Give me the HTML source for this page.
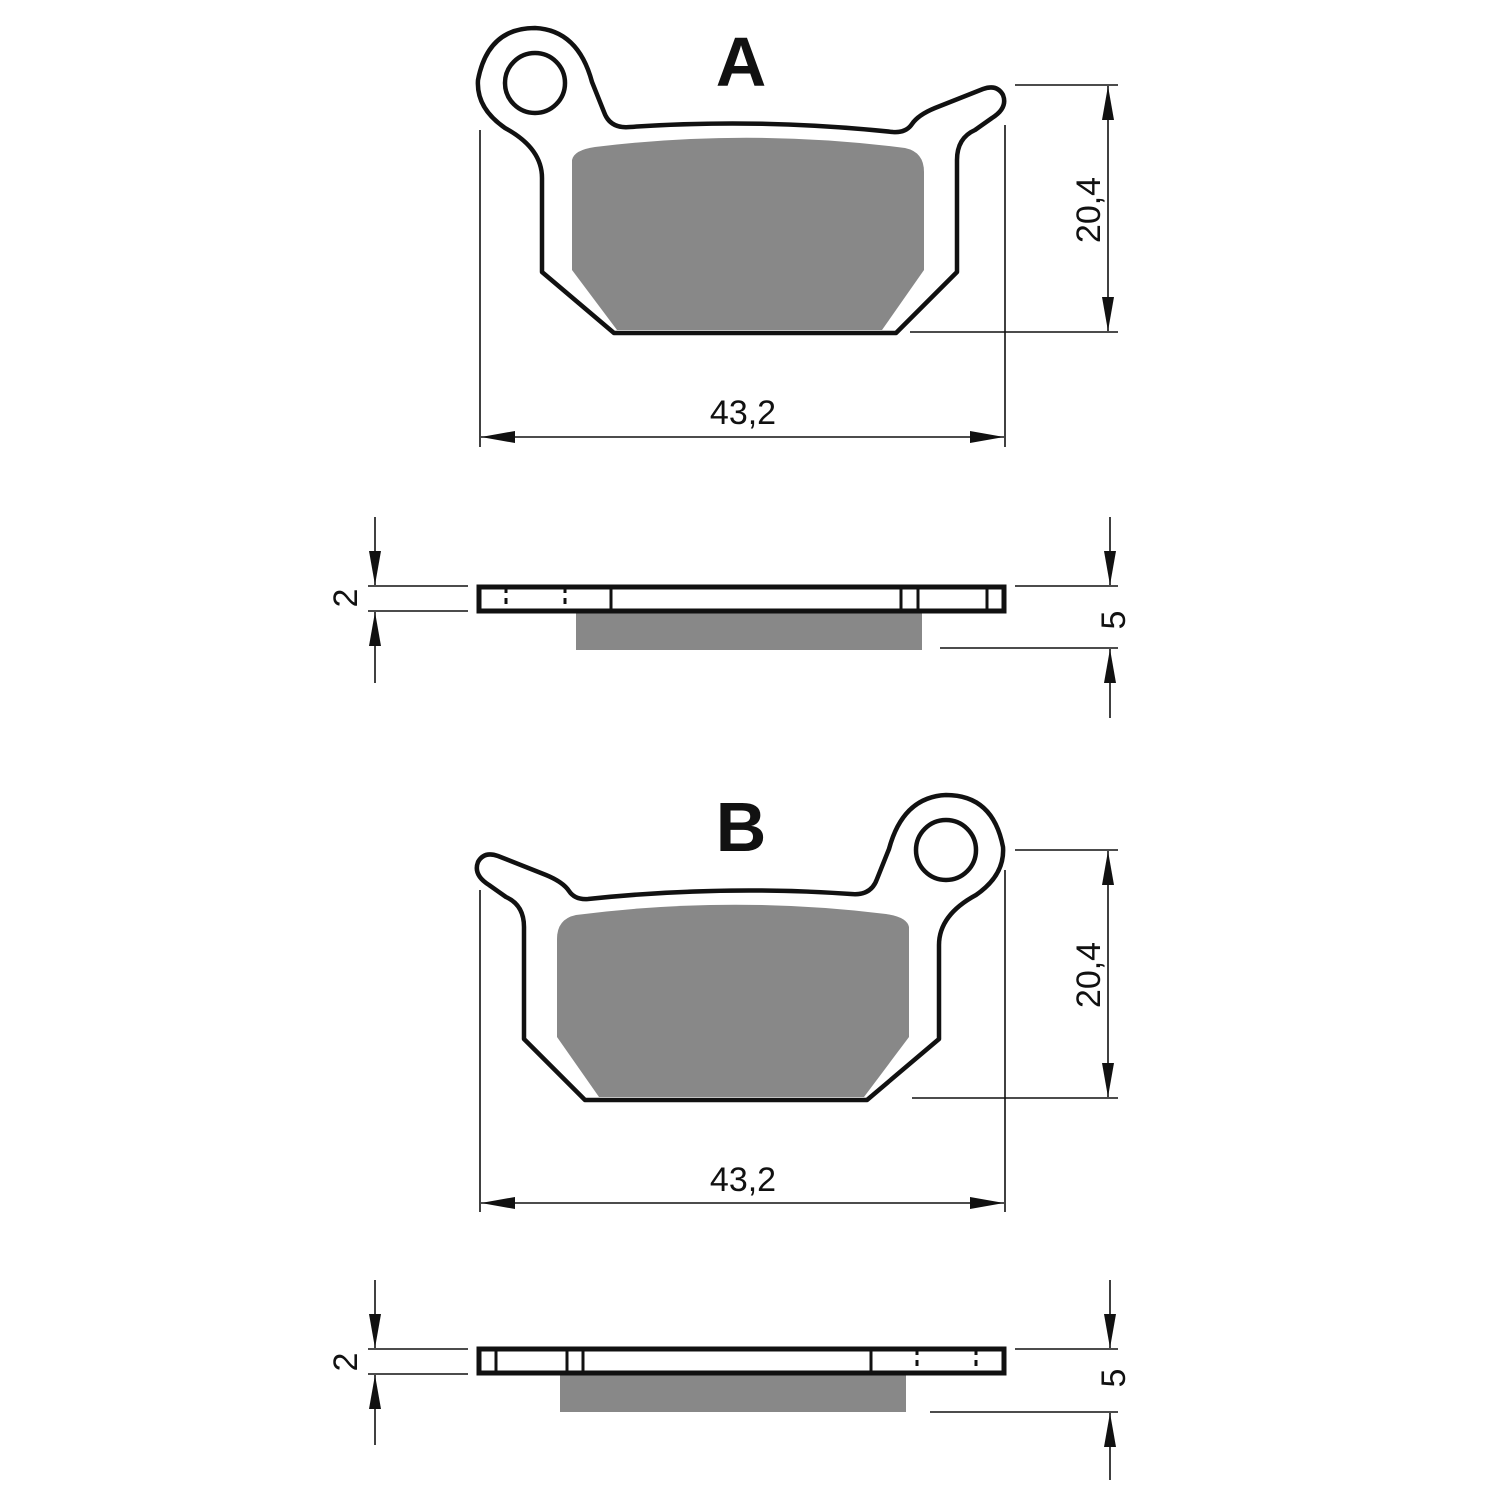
<!DOCTYPE html>
<html><head><meta charset="utf-8"><style>
html,body{margin:0;padding:0;background:#fff;}
svg{display:block;}
text{font-family:"Liberation Sans",sans-serif;fill:#111;}
</style></head><body>
<svg width="1500" height="1500" viewBox="0 0 1500 1500">
<defs>
<marker id="arw" viewBox="0 0 10 10" refX="10" refY="5" markerWidth="34" markerHeight="12" markerUnits="userSpaceOnUse" orient="auto" preserveAspectRatio="none"><path d="M0,0 L10,5 L0,10 Z" fill="#111"/></marker>
</defs>
<g>
<path d="M614,333 L896,333 L957,272 L957,160 Q957,138 975,130 L992,118 Q1008,108 1003,95 Q997,84 983,89 L935,108 Q918,115 912,124 Q906,133 893,132 Q760,118 630,127 Q610,129 604,112 L592,82 Q578,30 535,28 Q488,28 478,80 Q476,108 505,128 Q542,148 542,178 L542,272 Z" fill="none" stroke="#111" stroke-width="4.5" stroke-linejoin="round"/>
<circle cx="535" cy="83" r="30" fill="none" stroke="#111" stroke-width="4.5"/>
<path d="M572,160 Q574,150 595,147 Q750,128 905,148 Q924,152 924,172 L924,270 L882,330 L617,330 L572,270 Z" fill="#888"/>
</g>
<g transform="translate(1481,767) scale(-1,1)">
<path d="M614,333 L896,333 L957,272 L957,160 Q957,138 975,130 L992,118 Q1008,108 1003,95 Q997,84 983,89 L935,108 Q918,115 912,124 Q906,133 893,132 Q760,118 630,127 Q610,129 604,112 L592,82 Q578,30 535,28 Q488,28 478,80 Q476,108 505,128 Q542,148 542,178 L542,272 Z" fill="none" stroke="#111" stroke-width="4.5" stroke-linejoin="round"/>
<circle cx="535" cy="83" r="30" fill="none" stroke="#111" stroke-width="4.5"/>
<path d="M572,160 Q574,150 595,147 Q750,128 905,148 Q924,152 924,172 L924,270 L882,330 L617,330 L572,270 Z" fill="#888"/>
</g>
<text x="741" y="86" font-size="70" font-weight="bold" text-anchor="middle">A</text>
<text x="741" y="851" font-size="70" font-weight="bold" text-anchor="middle">B</text>
<g stroke="#111" stroke-width="1.6" fill="none">
<line x1="480" y1="130" x2="480" y2="447"/>
<line x1="1005" y1="125" x2="1005" y2="447"/>
<line x1="1015" y1="85" x2="1118" y2="85"/>
<line x1="910" y1="332" x2="1118" y2="332"/>
<line x1="743" y1="437" x2="481" y2="437" marker-end="url(#arw)"/>
<line x1="743" y1="437" x2="1004" y2="437" marker-end="url(#arw)"/>
<line x1="1108" y1="210" x2="1108" y2="86" marker-end="url(#arw)"/>
<line x1="1108" y1="210" x2="1108" y2="331" marker-end="url(#arw)"/>
<line x1="480" y1="890" x2="480" y2="1212"/>
<line x1="1005" y1="870" x2="1005" y2="1212"/>
<line x1="1015" y1="850" x2="1118" y2="850"/>
<line x1="912" y1="1098" x2="1118" y2="1098"/>
<line x1="743" y1="1203" x2="481" y2="1203" marker-end="url(#arw)"/>
<line x1="743" y1="1203" x2="1004" y2="1203" marker-end="url(#arw)"/>
<line x1="1108" y1="975" x2="1108" y2="851" marker-end="url(#arw)"/>
<line x1="1108" y1="975" x2="1108" y2="1097" marker-end="url(#arw)"/>
<line x1="368" y1="586" x2="468" y2="586"/>
<line x1="368" y1="611" x2="468" y2="611"/>
<line x1="375" y1="517" x2="375" y2="585" marker-end="url(#arw)"/>
<line x1="375" y1="683" x2="375" y2="612" marker-end="url(#arw)"/>
<line x1="1015" y1="586" x2="1118" y2="586"/>
<line x1="940" y1="648" x2="1118" y2="648"/>
<line x1="1110" y1="517" x2="1110" y2="585" marker-end="url(#arw)"/>
<line x1="1110" y1="718" x2="1110" y2="649" marker-end="url(#arw)"/>
<line x1="368" y1="1349" x2="468" y2="1349"/>
<line x1="368" y1="1374" x2="468" y2="1374"/>
<line x1="375" y1="1280" x2="375" y2="1348" marker-end="url(#arw)"/>
<line x1="375" y1="1445" x2="375" y2="1375" marker-end="url(#arw)"/>
<line x1="1015" y1="1349" x2="1118" y2="1349"/>
<line x1="930" y1="1412" x2="1118" y2="1412"/>
<line x1="1110" y1="1280" x2="1110" y2="1348" marker-end="url(#arw)"/>
<line x1="1110" y1="1480" x2="1110" y2="1413" marker-end="url(#arw)"/>
</g>
<rect x="576" y="612" width="346" height="38" fill="#888"/>
<rect x="479" y="587" width="525" height="24" fill="none" stroke="#111" stroke-width="5"/>
<g stroke="#111" stroke-width="3">
<line x1="611" y1="587" x2="611" y2="611"/>
<line x1="901" y1="587" x2="901" y2="611"/>
<line x1="918" y1="587" x2="918" y2="611"/>
<line x1="987" y1="587" x2="987" y2="611"/>
<line x1="506" y1="587" x2="506" y2="611" stroke-dasharray="6,5"/>
<line x1="565" y1="587" x2="565" y2="611" stroke-dasharray="6,5"/>
</g>
<rect x="560" y="1375" width="346" height="37" fill="#888"/>
<rect x="479" y="1349" width="525" height="24" fill="none" stroke="#111" stroke-width="5"/>
<g stroke="#111" stroke-width="3">
<line x1="496" y1="1349" x2="496" y2="1373"/>
<line x1="567" y1="1349" x2="567" y2="1373"/>
<line x1="583" y1="1349" x2="583" y2="1373"/>
<line x1="871" y1="1349" x2="871" y2="1373"/>
<line x1="917" y1="1349" x2="917" y2="1373" stroke-dasharray="6,5"/>
<line x1="976" y1="1349" x2="976" y2="1373" stroke-dasharray="6,5"/>
</g>
<text x="743" y="424" font-size="34" text-anchor="middle">43,2</text>
<text x="743" y="1191" font-size="34" text-anchor="middle">43,2</text>
<text transform="translate(1100,210) rotate(-90)" font-size="34" text-anchor="middle">20,4</text>
<text transform="translate(1100,975) rotate(-90)" font-size="34" text-anchor="middle">20,4</text>
<text transform="translate(357,598) rotate(-90)" font-size="34" text-anchor="middle">2</text>
<text transform="translate(357,1362) rotate(-90)" font-size="34" text-anchor="middle">2</text>
<text transform="translate(1125,620) rotate(-90)" font-size="34" text-anchor="middle">5</text>
<text transform="translate(1125,1378) rotate(-90)" font-size="34" text-anchor="middle">5</text>
</svg>
</body></html>
